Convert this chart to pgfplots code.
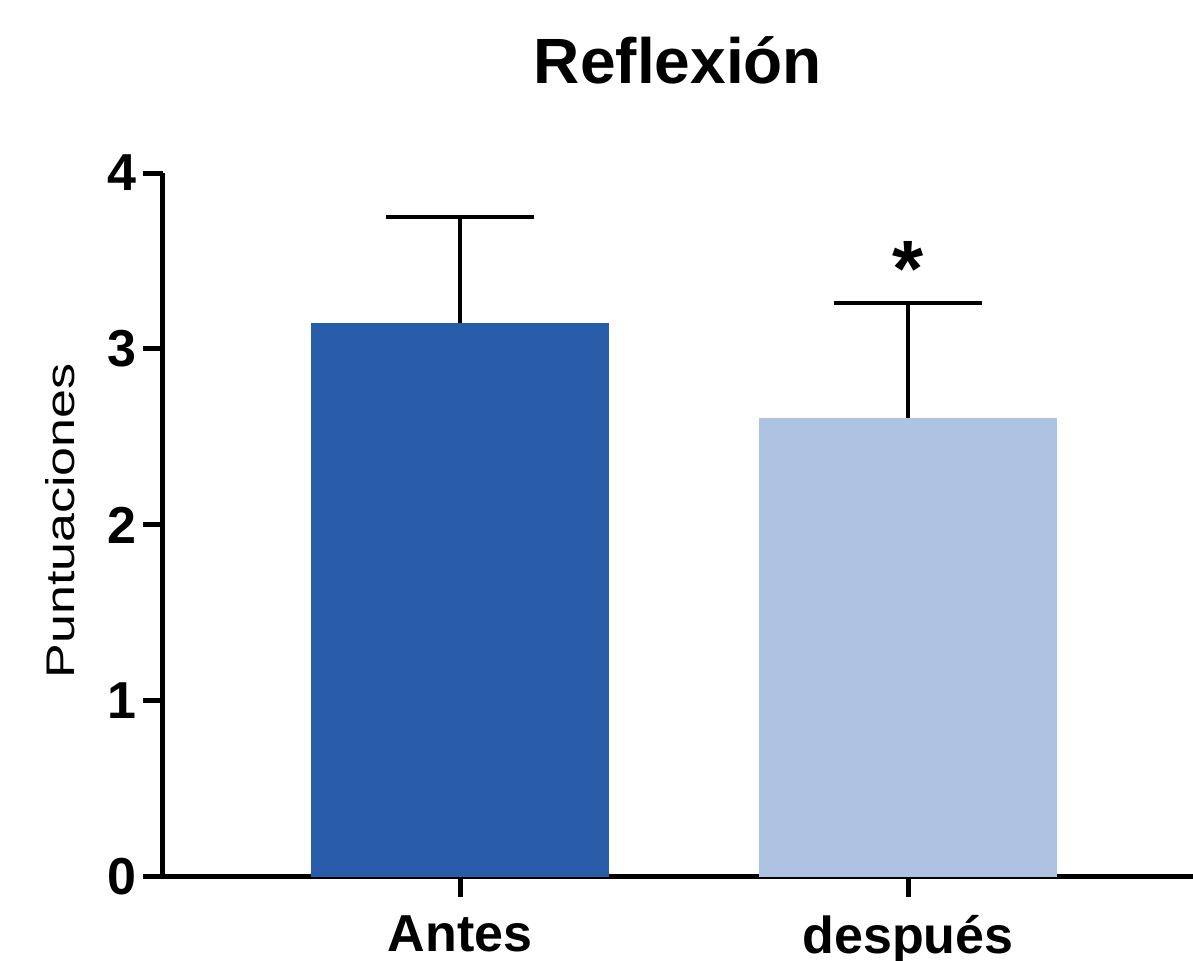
\documentclass[border=0pt]{standalone}
\usepackage{fontspec}
\setmainfont{Liberation Sans}
\usepackage{pgfplots}
\pgfplotsset{compat=1.18}
\definecolor{darkbar}{RGB}{40,92,168}
\definecolor{lightbar}{RGB}{174,195,226}
\begin{document}
\begin{tikzpicture}
\begin{axis}[
  at={(0,0)}, anchor=origin,
  scale only axis,
  width=257.5pt, height=176pt,
  xmin=0.337, xmax=2.636,
  ymin=0, ymax=4,
  axis lines=left,
  axis line style={-, line width=1.25pt, black},
  xtick={1,2}, xticklabels={Antes,después},
  ytick={0,1,2,3,4},
  tick align=outside,
  major tick length=5pt,
  tick style={line width=1.25pt, black},
  /pgf/number format/assume math mode=true,
  ticklabel style={font=\fontsize{13}{15}\selectfont\bfseries},
  yticklabel style={inner sep=0pt, xshift=-1.5pt},
  xticklabel style={inner sep=0pt, yshift=-4.5pt},
  ylabel={\scalebox{1.3}[1]{Puntuaciones}},
  ylabel style={at={(axis description cs:-0.0995,0.506)}, anchor=center, rotate=0, font=\fontsize{10}{12}\selectfont},
  title={Reflexión},
  title style={at={(axis description cs:0.5,1)}, anchor=base, yshift=16.5pt, font=\fontsize{16}{19}\selectfont\bfseries},
  ybar, bar width=74.5pt,
  clip=false,
]
\addplot[fill=darkbar, draw=none, bar shift=0pt,
  error bars/.cd, y dir=plus, y explicit,
  error bar style={line width=1pt, black},
  error mark options={rotate=90, line width=1pt, black, mark size=18.5pt}]
  coordinates {(1,3.15) +- (0,0.60)};
\addplot[fill=lightbar, draw=none, bar shift=0pt,
  error bars/.cd, y dir=plus, y explicit,
  error bar style={line width=1pt, black},
  error mark options={rotate=90, line width=1pt, black, mark size=18.5pt}]
  coordinates {(2,2.61) +- (0,0.65)};
\node[anchor=base, font=\fontsize{20}{24}\selectfont\bfseries, inner sep=0pt] at (axis cs:2,3.30) {*};
\end{axis}
\pgfresetboundingbox
\path (-40.75pt,-21pt) rectangle (257.5pt,219.25pt);
\end{tikzpicture}
\end{document}
